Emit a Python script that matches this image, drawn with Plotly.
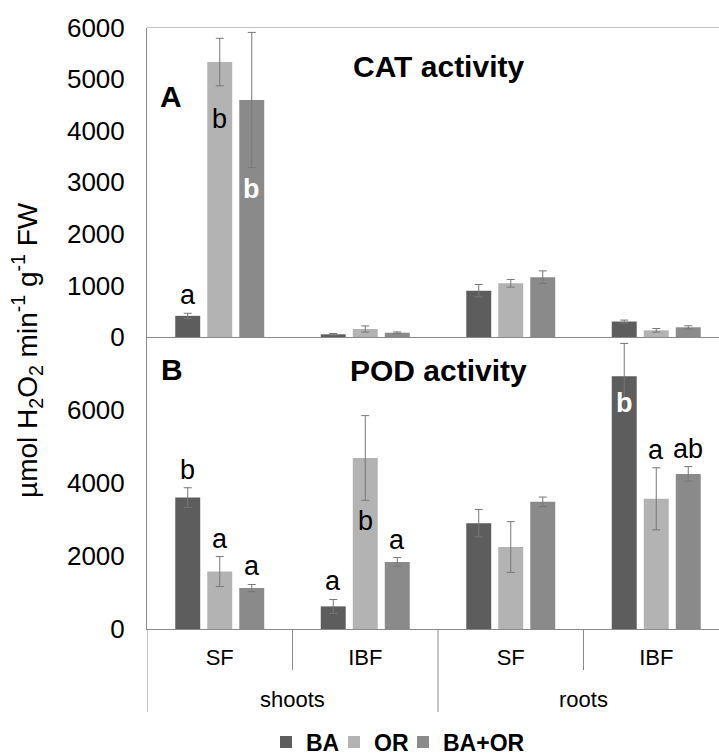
import plotly.graph_objects as go

# ---------------- data ----------------
categories = ["SF", "IBF", "SF", "IBF"]
organs = ["shoots", "roots"]
series = ["BA", "OR", "BA+OR"]

cat_BA = [410, 52, 898, 300]
cat_OR = [5330, 155, 1041, 129]
cat_BAOR = [4595, 83, 1160, 188]
cat_BA_err = [50, 15, 120, 28]
cat_OR_err = [460, 60, 75, 35]
cat_BAOR_err = [1310, 15, 122, 30]

pod_BA = [3600, 619, 2900, 6923]
pod_OR = [1575, 4686, 2246, 3567]
pod_BAOR = [1120, 1837, 3485, 4249]
pod_BA_err = [270, 190, 375, 900]
pod_OR_err = [410, 1160, 695, 850]
pod_BAOR_err = [100, 120, 130, 200]

cat_letters = {"BA": ["a", "", "", ""], "OR": ["b", "", "", ""], "BA+OR": ["b", "", "", ""]}
pod_letters = {"BA": ["b", "a", "", "b"], "OR": ["a", "b", "", "a"], "BA+OR": ["a", "a", "", "ab"]}

cat_ticks = [0, 1000, 2000, 3000, 4000, 5000, 6000]
pod_ticks = [0, 2000, 4000, 6000]

# ---------------- styles ----------------
W, H = 719, 755
FONT = "Arial, 'Liberation Sans', sans-serif"
colors = {"BA": "#5d5d5d", "OR": "#b3b3b3", "BA+OR": "#8a8a8a"}
err_color = "#777777"
line_color = "#8a8a8a"
BARGAP = 0.34
# letters drawn inside bars: (panel, series, category) -> (pixels below bar top, colour)
inside = {("CAT", "OR", 0): (57, "black"), ("CAT", "BA+OR", 0): (89, "white"),
          ("POD", "OR", 1): (63, "black"), ("POD", "BA", 3): (27, "white")}
legend_text_px = [266, 334, 403]   # left edge of each legend entry box

x_left_px, plot_top_px, mid_px, bottom_px = 147, 27.5, 337, 629
cat_px = 145.5

def py(p):
    return 1 - p / H

xs = list(range(len(categories)))
x_range = [-0.5, -0.5 + (W - x_left_px) / cat_px]

panels = {
    "CAT": (dict(BA=cat_BA, OR=cat_OR, **{"BA+OR": cat_BAOR}),
            dict(BA=cat_BA_err, OR=cat_OR_err, **{"BA+OR": cat_BAOR_err}), "x", "y", cat_letters),
    "POD": (dict(BA=pod_BA, OR=pod_OR, **{"BA+OR": pod_BAOR}),
            dict(BA=pod_BA_err, OR=pod_OR_err, **{"BA+OR": pod_BAOR_err}), "x2", "y2", pod_letters),
}
legend_names = ["legend", "legend2", "legend3"]

fig = go.Figure()
annotations = []
slot = (1 - BARGAP) / len(series)
for pname, (vals, errs, xa, ya, letters) in panels.items():
    for j, s in enumerate(series):
        fig.add_trace(go.Bar(
            x=xs, y=vals[s], name=s, xaxis=xa, yaxis=ya,
            marker=dict(color=colors[s], line=dict(width=0)),
            error_y=dict(type="data", array=errs[s], color=err_color, thickness=1, width=4),
            showlegend=(pname == "CAT"), legend=legend_names[j], hoverinfo="skip",
        ))
        for i, lab in enumerate(letters[s]):
            if not lab:
                continue
            xpos = i + (j - 1) * slot
            key = (pname, s, i)
            if key in inside:
                shift, col = inside[key]
                annotations.append(dict(x=xpos, y=vals[s][i], xref=xa, yref=ya, text=lab,
                                        showarrow=False, xanchor="center", yanchor="middle",
                                        yshift=-shift,
                                        font=dict(size=27, color=col, family=FONT,
                                                  weight="bold" if col == "white" else "normal")))
            else:
                annotations.append(dict(x=xpos, y=vals[s][i] + errs[s][i], xref=xa, yref=ya,
                                        text=lab, showarrow=False, xanchor="center",
                                        yanchor="middle", yshift=18,
                                        font=dict(size=27, color="black", family=FONT)))

def label(x, y, text, size, **kw):
    d = dict(x=x, y=y, xref="paper", yref="paper", text=text, showarrow=False,
             xanchor="center", yanchor="middle",
             font=dict(size=size, family=FONT, color="black"))
    d.update(kw)
    return d

annotations += [
    label(438 / W, py(66), "<b>CAT activity</b>", 30),
    label(438 / W, py(370), "<b>POD activity</b>", 30),
    label(171 / W, py(96), "<b>A</b>", 30),
    label(172 / W, py(369), "<b>B</b>", 30),
    label(27 / W, py(350), "µmol H<sub>2</sub>O<sub>2</sub> min<sup>-1</sup> g<sup>-1</sup> FW",
          28, textangle=-90),
]
for k, org in enumerate(organs):
    annotations.append(dict(x=2 * k + 0.5, y=py(699), xref="x2", yref="paper", text=org,
                            showarrow=False, xanchor="center", yanchor="middle",
                            font=dict(size=22, family=FONT, color="black")))

shapes = [dict(type="line", xref="x", yref="y", x0=x_range[0], x1=x_range[1] + 1,
               y0=cat_ticks[-1], y1=cat_ticks[-1], line=dict(color=line_color, width=1))]
for b in range(len(categories) + 1):
    xb = b - 0.5
    outer = (b % 2 == 0)
    shapes.append(dict(type="line", xref="x2", yref="paper", x0=xb, x1=xb,
                       y0=py(bottom_px), y1=py(712 if outer else 670),
                       line=dict(color=line_color, width=1)))

axis_common = dict(showgrid=False, zeroline=False, showline=True, linecolor=line_color,
                   linewidth=1, ticks="", tickfont=dict(size=26, family=FONT, color="black"))
dom_x = [x_left_px / W, 1]

legend_layout = {}
for n, lx in zip(legend_names, legend_text_px):
    legend_layout[n] = dict(orientation="h", x=lx / W, xanchor="left", y=py(742),
                            yanchor="middle", itemclick=False, bgcolor="rgba(0,0,0,0)",
                            font=dict(size=23, family=FONT, color="black", weight="bold"))

fig.update_layout(
    width=W, height=H, margin=dict(l=0, r=0, t=0, b=0, autoexpand=False),
    paper_bgcolor="white", plot_bgcolor="white",
    barmode="group", bargap=BARGAP, bargroupgap=0.22,
    xaxis=dict(domain=dom_x, anchor="y", range=x_range, showticklabels=False,
               showgrid=False, zeroline=False, showline=True, linecolor=line_color, ticks=""),
    xaxis2=dict(domain=dom_x, anchor="y2", range=x_range, tickvals=xs, ticktext=categories,
                showgrid=False, zeroline=False, showline=True, linecolor=line_color, ticks="",
                tickfont=dict(size=22, family=FONT, color="black"), ticklabelstandoff=9),
    yaxis=dict(domain=[py(mid_px), py(plot_top_px)], anchor="x", range=[0, cat_ticks[-1]],
               tickvals=cat_ticks, ticklabelstandoff=16, **axis_common),
    yaxis2=dict(domain=[py(bottom_px), py(mid_px)], anchor="x2", range=[0, 8000],
                tickvals=pod_ticks, ticklabelstandoff=16, **axis_common),
    annotations=annotations, shapes=shapes,
    **legend_layout,
)

fig.write_html("out.html")
